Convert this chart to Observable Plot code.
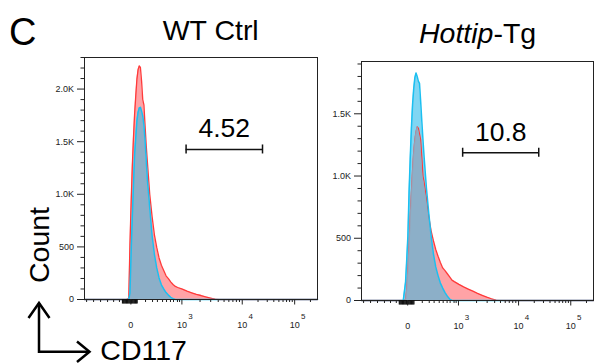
<!DOCTYPE html>
<html><head><meta charset="utf-8">
<script src="https://cdn.jsdelivr.net/npm/d3@7"></script>
<script src="https://cdn.jsdelivr.net/npm/@observablehq/plot@0.6"></script>
<style>
body{margin:0;background:#fff;}
#fig{position:relative;width:594px;height:364px;overflow:hidden;font-family:"Liberation Sans",Arial,sans-serif;}
#fig svg{position:absolute;}
</style></head><body><div id="fig"></div>
<script>
// CD117 display channel (0 = left edge of the plot, 1000 = right edge)
const channel = [0,170,180,190,195,200,205,210,215,220,225,230,235,240,245,250,255,260,265,270,280,290,300,310,320,330,340,350,360,370,380,390,400,420,440,460,480,500,520,540,560,580,600,620,640,1000];
// WT Ctrl counts
const wtRed  = [0,0,0,10,515,910,1255,1530,1760,1935,2095,2185,2220,2205,2075,1900,1850,1650,1460,1305,1000,790,615,495,395,325,275,225,198,168,143,124,114,99,79,64,49,38,25,14,4,0,0,0,0,0];
const wtBlue = [0,0,0,0,60,435,770,1075,1375,1540,1700,1780,1820,1827,1790,1745,1660,1510,1325,1135,870,610,430,300,205,140,100,66,42,21,8,0,0,0,0,0,0,0,0,0,0,0,0,0,0,0];
// Hottip-Tg counts
const tgRed  = [0,0,0,5,90,250,450,670,860,1040,1190,1290,1355,1395,1385,1338,1290,1150,1000,950,820,670,560,480,410,355,305,262,240,215,190,164,152,130,110,92,75,57,42,27,14,3,1,0,0,0];
const tgBlue = [0,0,0,150,330,520,870,1140,1380,1570,1700,1790,1828,1800,1762,1745,1600,1440,1290,1150,900,700,520,375,270,200,140,100,64,35,12,0,0,0,0,0,0,0,0,0,0,0,0,0,0,0];

// x axis (channel positions of 0, 10^3, 10^4, 10^5)
const xMajor = [199, 418, 677, 902];
const xBase  = ["0", "10", "10", "10"];
const xExp   = ["", "3", "4", "5"];
const xMinorNeg = [9, 39, 69, 99, 125, 150];
const xMinorLin = [262, 292, 313, 335, 352, 369, 382, 399, 408];

// y axes
const wtYMajor = [0, 500, 1000, 1500, 2000];
const wtYLabels = ["0", "500", "1.0K", "1.5K", "2.0K"];
const tgYMajor = [0, 500, 1000, 1500];
const tgYLabels = ["0", "500", "1.0K", "1.5K"];

// gates
const gate = [436, 764];
const wtGateLabel = "4.52", wtGateY = 1426;
const tgGateLabel = "10.8", tgGateY = 1187;

const FONT = '"Liberation Sans", Arial, sans-serif';

const xDecadeMinor = [];
for (let k = 1; k < xMajor.length; k++) {
  const a = xMajor[k], b = k + 1 < xMajor.length ? xMajor[k + 1] : xMajor[k] + (xMajor[k] - xMajor[k - 1]);
  for (let m = 2; m <= 9; m++) {
    const c = a + Math.log10(m) * (b - a);
    if (c < 995) xDecadeMinor.push(c);
  }
}
const xZeroCluster = d3.range(163, 228, 3.5);

function panel({red, blue, yMax, yMajor, yLabels, gateY, gateLabel, width, height, ml, mr, mt, mb}) {
  const rows = channel.map((c, i) => ({ch: c, red: red[i], blue: blue[i], both: Math.min(red[i], blue[i])}));
  const yMinor = d3.range(100, yMax + 1, 100).filter(v => !yMajor.includes(v));
  return Plot.plot({
    width, height, marginLeft: ml, marginRight: mr, marginTop: mt, marginBottom: mb,
    style: {fontFamily: FONT, fontSize: "9px", color: "#222", background: "transparent", overflow: "visible"},
    x: {domain: [0, 1000]},
    y: {domain: [0, yMax]},
    marks: [
      Plot.areaY(rows, {x: "ch", y: "red", fill: "#ffa3a6", curve: "linear"}),
      Plot.areaY(rows, {x: "ch", y: "blue", fill: "#80d6f3", curve: "linear"}),
      Plot.lineY(rows, {x: "ch", y: "red", stroke: "#ff3a3a", strokeWidth: 1.3}),
      Plot.areaY(rows, {x: "ch", y: "both", fill: "#8dabc3", fillOpacity: 0.9}),
      Plot.lineY(rows, {x: "ch", y: "blue", stroke: "#1bbff0", strokeWidth: 1.5}),
      Plot.frame({stroke: "#222", strokeWidth: 1}),
      Plot.axisY(yMinor, {tickSize: 3.5, tickFormat: () => "", label: null, stroke: "#222"}),
      Plot.axisY(yMajor, {tickSize: 7, tickPadding: 3.5, tickFormat: d => yLabels[yMajor.indexOf(d)], label: null, stroke: "#222", fill: "#222"}),
      Plot.axisX(xMinorNeg.concat(xMinorLin, xDecadeMinor), {tickSize: 3, tickFormat: () => "", label: null, stroke: "#222"}),
      Plot.axisX(xZeroCluster, {tickSize: 4.5, tickFormat: () => "", label: null, stroke: "#111", strokeWidth: 1.2}),
      Plot.axisX(xMajor, {tickSize: 5.5, tickPadding: 17, tickFormat: d => xBase[xMajor.indexOf(d)], label: null, stroke: "#222", fill: "#222"}),
      Plot.text(xMajor, {x: d => d, text: d => xExp[xMajor.indexOf(d)], frameAnchor: "bottom", dy: 19.5, dx: 8.5, fontSize: 8, fill: "#222"}),
      Plot.ruleY([gateY], {x1: gate[0], x2: gate[1], y: d => d, stroke: "#111", strokeWidth: 1.5}),
      Plot.ruleX(gate, {x: d => d, y1: gateY, y2: gateY, insetTop: -4.5, insetBottom: -4.5, stroke: "#111", strokeWidth: 1.5}),
      Plot.text([gateLabel], {x: (gate[0] + gate[1]) / 2, y: gateY, text: d => d, dy: -20.5, fontSize: 26.5, fill: "#000"})
    ]
  });
}

const fig = document.getElementById("fig");
const left = panel({red: wtRed, blue: wtBlue, yMax: 2300, yMajor: wtYMajor, yLabels: wtYLabels,
  gateY: wtGateY, gateLabel: wtGateLabel, width: 290, height: 290, ml: 44, mr: 13, mt: 7, mb: 41});
left.style.left = "40px"; left.style.top = "50px";
fig.appendChild(left);
const right = panel({red: tgRed, blue: tgBlue, yMax: 1920, yMajor: tgYMajor, yLabels: tgYLabels,
  gateY: tgGateY, gateLabel: tgGateLabel, width: 279, height: 290, ml: 46, mr: 1, mt: 11, mb: 40});
right.style.left = "315px"; right.style.top = "50px";
fig.appendChild(right);

// annotations overlay
const ns = "http://www.w3.org/2000/svg";
const ov = document.createElementNS(ns, "svg");
ov.setAttribute("width", 594); ov.setAttribute("height", 364);
ov.style.left = "0px"; ov.style.top = "0px"; ov.style.pointerEvents = "none";
ov.innerHTML = `
<g font-family='${FONT}' fill='#000'>
  <text x="9" y="44.5" font-size="38">C</text>
  <text x="210.7" y="40" font-size="28.5" text-anchor="middle">WT Ctrl</text>
  <text x="477.6" y="43" font-size="28.5" text-anchor="middle"><tspan font-style="italic">Hottip</tspan>-Tg</text>
  <text transform="translate(48.5,245) rotate(-90)" font-size="28.5" text-anchor="middle">Count</text>
  <text x="100.3" y="359.5" font-size="28.5">CD117</text>
</g>
<g fill="none" stroke="#000" stroke-width="2.5" stroke-linejoin="miter">
  <polyline points="39,303 39,351.7 89,351.7"/>
  <polyline points="28.5,318 39,303 49.5,318"/>
  <polyline points="77,341.5 89.5,351.7 77,362"/>
</g>`;
fig.appendChild(ov);
</script></body></html>
